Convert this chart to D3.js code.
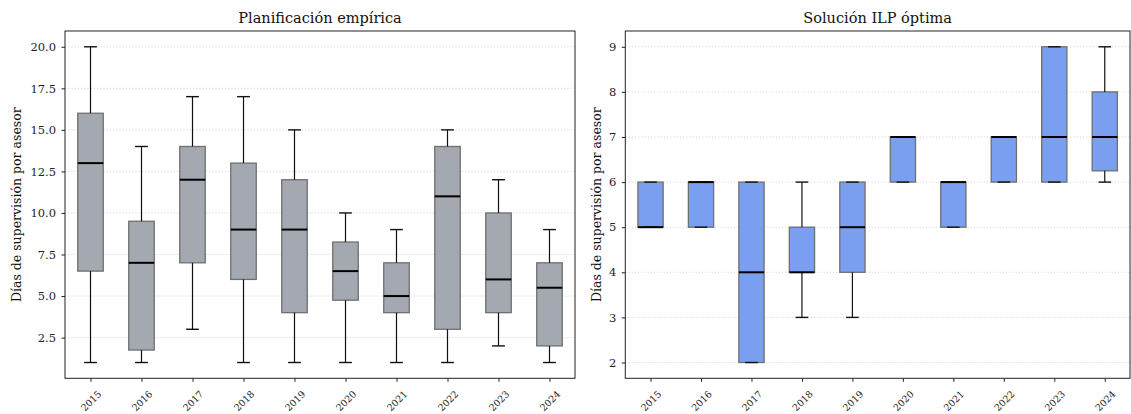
<!DOCTYPE html>
<meta charset="utf-8">
<head>
  <style>
    body { margin: 0; background: #fff; }
    svg { font-family: "DejaVu Serif", serif; }
    .tick text { fill: #222; }
    .title { font-size: 14.5px; fill: #111; }
    .ylab { font-size: 12.5px; fill: #111; }
    .grid line { stroke: #d4d4d4; stroke-dasharray: 1.2,2; stroke-width: 0.9; }
  </style>
  <script src="https://cdn.jsdelivr.net/npm/d3@7"></script>
</head>
<body>
  <svg width="1131" height="414"></svg>
  <script>

    var years = ["2015","2016","2017","2018","2019","2020","2021","2022","2023","2024"]

    // Planificación empírica
    var empLow  = [1, 1, 3, 1, 1, 1, 1, 1, 2, 1]
    var empQ1   = [6.5, 1.75, 7, 6, 4, 4.75, 4, 3, 4, 2]
    var empMed  = [13, 7, 12, 9, 9, 6.5, 5, 11, 6, 5.5]
    var empQ3   = [16, 9.5, 14, 13, 12, 8.25, 7, 14, 10, 7]
    var empHigh = [20, 14, 17, 17, 15, 10, 9, 15, 12, 9]
    var empTicks = [2.5, 5, 7.5, 10, 12.5, 15, 17.5, 20]

    // Solución ILP óptima
    var ilpLow  = [5, 5, 2, 3, 3, 6, 5, 6, 6, 6]
    var ilpQ1   = [5, 5, 2, 4, 4, 6, 5, 6, 6, 6.25]
    var ilpMed  = [5, 6, 4, 4, 5, 7, 6, 7, 7, 7]
    var ilpQ3   = [6, 6, 6, 5, 6, 7, 6, 7, 9, 8]
    var ilpHigh = [6, 6, 6, 6, 6, 7, 6, 7, 9, 9]
    var ilpTicks = [2, 3, 4, 5, 6, 7, 8, 9]

    var svg = d3.select("svg")
    var plotTop = 31, plotBottom = 378.3

    function panel(x0, x1, title, low, q1, med, q3, high, ticks, fmt, fill, labOff) {
      var g = svg.append("g")

      var x = d3.scaleLinear().domain([0.5, years.length + 0.5]).range([x0, x1])
      var lo = d3.min(low), hi = d3.max(high), pad = (hi - lo) * 0.05
      var y = d3.scaleLinear().domain([lo - pad, hi + pad]).range([plotBottom, plotTop])
      var bw = x(1.25) - x(1)   // half box width

      // grid
      g.append("g").attr("class", "grid")
        .selectAll("line").data(ticks).enter().append("line")
        .attr("x1", x0).attr("x2", x1)
        .attr("y1", function(d) { return y(d) }).attr("y2", function(d) { return y(d) })

      var rows = years.map(function(yr, i) {
        return {i: i + 1, low: low[i], q1: q1[i], med: med[i], q3: q3[i], high: high[i]}
      })

      var b = g.selectAll(".box").data(rows).enter().append("g").attr("class", "box")

      b.append("rect")
        .attr("x", function(d) { return x(d.i) - bw })
        .attr("width", bw * 2)
        .attr("y", function(d) { return y(d.q3) })
        .attr("height", function(d) { return Math.max(0, y(d.q1) - y(d.q3)) })
        .attr("fill", fill)
        .attr("stroke", "#6f6f6f")
        .attr("stroke-width", 1.3)

      // whiskers
      b.append("line")
        .attr("x1", function(d) { return x(d.i) }).attr("x2", function(d) { return x(d.i) })
        .attr("y1", function(d) { return y(d.q3) }).attr("y2", function(d) { return y(d.high) })
        .attr("stroke", "#111").attr("stroke-width", 1.2)
      b.append("line")
        .attr("x1", function(d) { return x(d.i) }).attr("x2", function(d) { return x(d.i) })
        .attr("y1", function(d) { return y(d.q1) }).attr("y2", function(d) { return y(d.low) })
        .attr("stroke", "#111").attr("stroke-width", 1.2)

      // caps
      ;["low", "high"].forEach(function(k) {
        b.append("line")
          .attr("x1", function(d) { return x(d.i) - bw / 2 }).attr("x2", function(d) { return x(d.i) + bw / 2 })
          .attr("y1", function(d) { return y(d[k]) }).attr("y2", function(d) { return y(d[k]) })
          .attr("stroke", "#111").attr("stroke-width", 1.4)
      })

      // medians
      b.append("line")
        .attr("x1", function(d) { return x(d.i) - bw }).attr("x2", function(d) { return x(d.i) + bw })
        .attr("y1", function(d) { return y(d.med) }).attr("y2", function(d) { return y(d.med) })
        .attr("stroke", "#000").attr("stroke-width", 2)

      // frame
      g.append("rect")
        .attr("x", x0).attr("y", plotTop)
        .attr("width", x1 - x0).attr("height", plotBottom - plotTop)
        .attr("fill", "none").attr("stroke", "#222").attr("stroke-width", 1)

      // y axis
      var ya = g.append("g")
        .attr("transform", "translate(" + x0 + ",0)")
        .call(d3.axisLeft(y).tickValues(ticks).tickFormat(fmt).tickSize(3.5).tickPadding(5.5))
      ya.select(".domain").remove()
      ya.selectAll("text").attr("font-size", "11.5px").attr("font-family", "DejaVu Serif")
      ya.selectAll("line").attr("stroke", "#222")

      // x axis
      var xa = g.append("g")
        .attr("transform", "translate(0," + plotBottom + ")")
        .call(d3.axisBottom(x).tickValues(d3.range(1, years.length + 1))
          .tickFormat(function(d) { return years[d - 1] }).tickSize(3.5))
      xa.select(".domain").remove()
      xa.selectAll("line").attr("stroke", "#222")
      xa.selectAll("text")
        .attr("font-size", "9.5px").attr("font-family", "DejaVu Serif")
        .attr("text-anchor", "middle").attr("dy", null).attr("y", null)
        .attr("dominant-baseline", "central")
        .attr("transform", "translate(0,22.5) rotate(-45)")

      g.append("text").attr("class", "title")
        .attr("x", (x0 + x1) / 2).attr("y", 23)
        .attr("text-anchor", "middle")
        .text(title)

      g.append("text").attr("class", "ylab")
        .attr("transform", "translate(" + (x0 - labOff) + "," + ((plotTop + plotBottom) / 2) + ") rotate(-90)")
        .attr("text-anchor", "middle")
        .text("Días de supervisión por asesor")
    }

    panel(65, 575, "Planificación empírica", empLow, empQ1, empMed, empQ3, empHigh,
      empTicks, d3.format(".1f"), "#a4a8b1", 44)
    panel(625.3, 1130, "Solución ILP óptima", ilpLow, ilpQ1, ilpMed, ilpQ3, ilpHigh,
      ilpTicks, d3.format("d"), "#7b9ff0", 24)

  </script>
</body>
